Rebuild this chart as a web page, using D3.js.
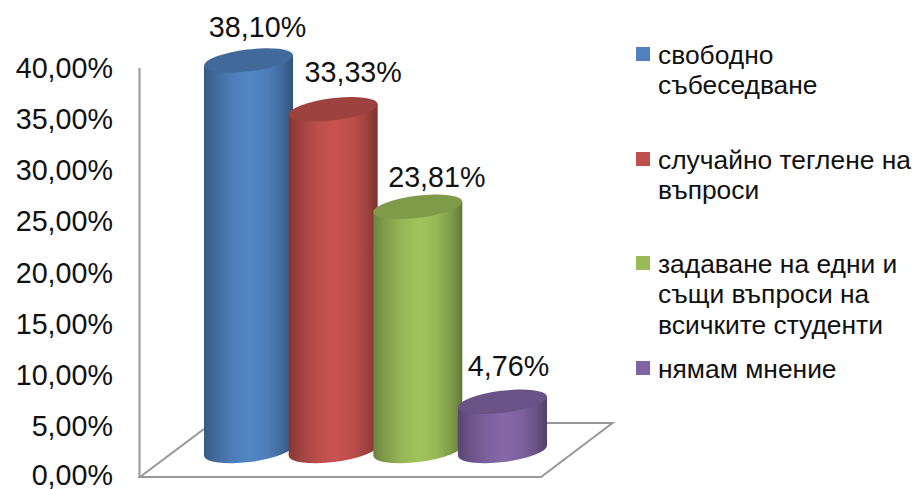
<!DOCTYPE html>
<html><head><meta charset="utf-8">
<script src="https://cdn.jsdelivr.net/npm/d3@7"></script>
<style>html,body{margin:0;padding:0;background:#fff}svg{display:block}text{font-family:"Liberation Sans",Arial,sans-serif;fill:#111}</style>
</head><body><svg id="c" width="916" height="489"></svg>
<script>
const categories = ["свободно събеседване","случайно теглене на въпроси","задаване на едни и същи въпроси на всичките студенти","нямам мнение"];
const values = [38.10,33.33,23.81,4.76];
const valueLabels = ["38,10%","33,33%","23,81%","4,76%"];
const tickValues = [0,5,10,15,20,25,30,35,40];
const tickLabels = ["0,00%","5,00%","10,00%","15,00%","20,00%","25,00%","30,00%","35,00%","40,00%"];
const colors = ["#4f81bd","#c0504d","#9bbb59","#8064a2"];
const legendLines = [["свободно","събеседване"],["случайно теглене на","въпроси"],["задаване на едни и","същи въпроси на","всичките студенти"],["нямам мнение"]];

const svg=d3.select("#c");
const y=d3.scaleLinear().domain([0,40]).range([477,67.5]);
const x=d3.scalePoint().domain(categories).range([248.5,502.5]);
const depth=26.5;
const fs=28.7;

const fl=[[140,477],[541,477],[612.5,423],[212,423]];
svg.append("path").attr("d",d3.line()(fl)+"Z").attr("fill","#fff").attr("stroke","#979797").attr("stroke-width",2);

const axis=d3.axisLeft(y).tickValues(tickValues).tickSize(0).tickPadding(26).tickFormat((d,i)=>tickLabels[i]);
const ag=svg.append("g").attr("transform","translate(139,0)").call(axis);
ag.select(".domain").attr("stroke","#979797").attr("stroke-width",2);
ag.selectAll("text").attr("font-size",fs).attr("dy",d=>d===0?"0.26em":"0.34em").style("font-family",'"Liberation Sans",Arial,sans-serif').attr("fill","#111");

const defs=svg.append("defs");
colors.forEach((c,i)=>{
  const g=defs.append("linearGradient").attr("id","g"+i).attr("x1",0).attr("x2",1).attr("y1",0).attr("y2",0);
  const base=d3.rgb(c);
  const stops=[[0,base.darker(1.05)],[.12,base.darker(.55)],[.32,base.darker(.08)],[.52,base.brighter(.12)],[.72,base.darker(.08)],[.88,base.darker(.55)],[1,base.darker(1.25)]];
  stops.forEach(s=>g.append("stop").attr("offset",s[0]).attr("stop-color",s[1].formatHex()));
});

const rx=44.5, ry=11.5, tilt=5.4;
categories.forEach((cat,i)=>{
  const cx=x(cat);
  const top=y(values[i])-depth, bot=y(0)-depth;
  const g=svg.append("g");
  const body=`M${cx-rx},${top+tilt}L${cx-rx},${bot+tilt}A${rx},${ry} -7 0 0 ${cx+rx},${bot-tilt}L${cx+rx},${top-tilt}Z`;
  g.append("path").attr("d",body).attr("fill",`url(#g${i})`);
  g.append("ellipse").attr("cx",cx).attr("cy",top).attr("rx",rx+.3).attr("ry",ry-.5)
    .attr("transform",`rotate(-7 ${cx} ${top})`).attr("fill",d3.rgb(colors[i]).darker(.55).formatHex());
});

const nudgeX=[9,20,19,6], nudgeY=[-34,-38,-30,-36];
svg.selectAll(".lab").data(categories).join("text").attr("class","lab")
  .attr("x",(d,i)=>x(d)+nudgeX[i])
  .attr("y",(d,i)=>y(values[i])-depth+nudgeY[i]).attr("dy","0.36em")
  .attr("text-anchor","middle").attr("font-size",fs).text((d,i)=>valueLabels[i]);

const legendTop=[47,152,256,361], legendFs=26.4, lh=30.8;
categories.forEach((cat,i)=>{
  const g=svg.append("g").attr("transform",`translate(636,${legendTop[i]})`);
  g.append("rect").attr("width",14).attr("height",14).attr("fill",colors[i]);
  legendLines[i].forEach((t,j)=>g.append("text").attr("x",22).attr("y",7+j*lh).attr("dy","0.36em").attr("font-size",legendFs).text(t));
});
</script></body></html>
